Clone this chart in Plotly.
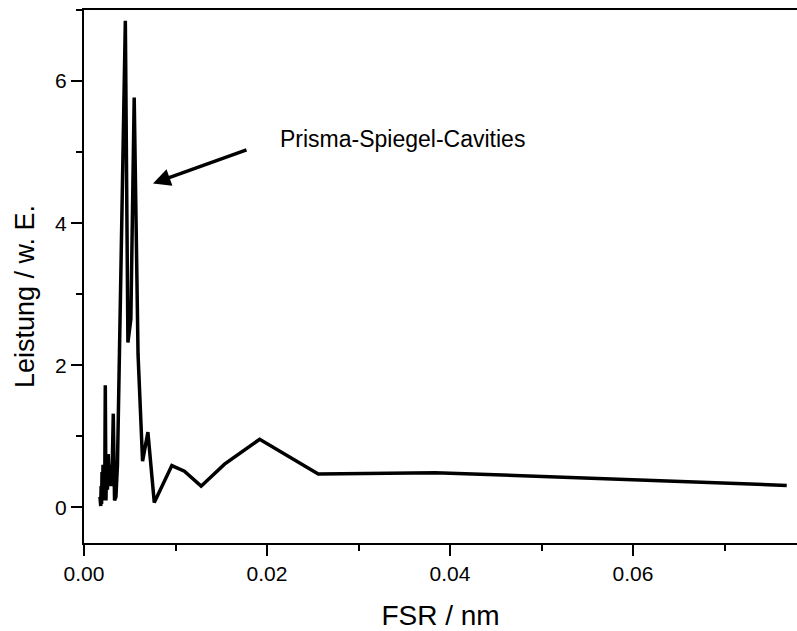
import plotly.graph_objects as go

fsr_nm = [0.001745, 0.001829, 0.001873, 0.00192, 0.001969, 0.002021, 0.002076, 0.002133,
          0.002194, 0.002259, 0.002327, 0.0024, 0.002477, 0.00256, 0.002648, 0.002743,
          0.002844, 0.002954, 0.003072, 0.0032, 0.003339, 0.003491, 0.003657, 0.00384,
          0.004042, 0.004267, 0.004518, 0.0048, 0.00512, 0.005486, 0.005908, 0.0064,
          0.006982, 0.00768, 0.0096, 0.010971, 0.0128, 0.01536, 0.0192, 0.0256,
          0.0384, 0.0768]
leistung = [0.15, 0.02, 0.3, 0.05, 0.5, 0.1, 0.6, 0.2,
            0.45, 0.1, 1.72, 0.1, 0.7, 0.25, 0.75, 0.35,
            0.6, 0.3, 0.5, 1.32, 0.1, 0.15, 0.6, 2.0,
            3.6, 5.2, 6.85, 2.32, 2.65, 5.77, 2.15, 0.65,
            1.06, 0.07, 0.59, 0.51, 0.30, 0.61, 0.96, 0.47,
            0.49, 0.31]

x_ticks = [0.00, 0.02, 0.04, 0.06]
y_ticks = [0, 2, 4, 6]
annotation_text = "Prisma-Spiegel-Cavities"
x_title = "FSR / nm"
y_title = "Leistung / w. E."

FONT = "Liberation Sans, Arial, sans-serif"

fig = go.Figure()
fig.add_trace(go.Scatter(x=fsr_nm, y=leistung, mode="lines",
                         line=dict(color="black", width=3.5), showlegend=False))

fig.add_annotation(x=0.00754, y=4.56, ax=95, ay=-34, xref="x", yref="y",
                   showarrow=True, arrowhead=2, arrowsize=1, arrowwidth=3.5,
                   arrowcolor="black", text="")
fig.add_annotation(x=0.0212, y=5.18, xref="x", yref="y", text=annotation_text,
                   showarrow=False, xanchor="left", yanchor="middle",
                   font=dict(family=FONT, size=23, color="black"))
# y-axis title placed as rotated text
fig.add_annotation(x=-0.0827, y=0.4615, xref="paper", yref="paper", text=y_title,
                   showarrow=False, textangle=-90, xanchor="center", yanchor="middle",
                   font=dict(family=FONT, size=27, color="black"))

fig.update_layout(
    width=797, height=631,
    margin=dict(l=84, r=0, t=10, b=88),
    paper_bgcolor="white", plot_bgcolor="white",
    font=dict(family=FONT, color="black"),
    xaxis=dict(range=[0, 0.07792], tickvals=x_ticks, tickformat=".2f",
               ticks="outside", ticklen=11, tickwidth=2, tickcolor="black",
               showline=True, linecolor="black", linewidth=2, mirror=True,
               showgrid=False, zeroline=False,
               tickfont=dict(family=FONT, size=21, color="black"),
               minor=dict(dtick=0.01, ticks="outside", ticklen=6, tickwidth=2,
                          tickcolor="black", showgrid=False),
               title=dict(text=x_title, font=dict(family=FONT, size=28, color="black"),
                          standoff=21)),
    yaxis=dict(range=[-0.5, 7], tickvals=y_ticks,
               ticks="outside", ticklen=11, tickwidth=2, tickcolor="black",
               showline=True, linecolor="black", linewidth=2, mirror=False,
               showgrid=False, zeroline=False,
               tickfont=dict(family=FONT, size=21, color="black"),
               minor=dict(dtick=1, ticks="outside", ticklen=6, tickwidth=2,
                          tickcolor="black", showgrid=False)),
)

fig.write_html("out.html")
